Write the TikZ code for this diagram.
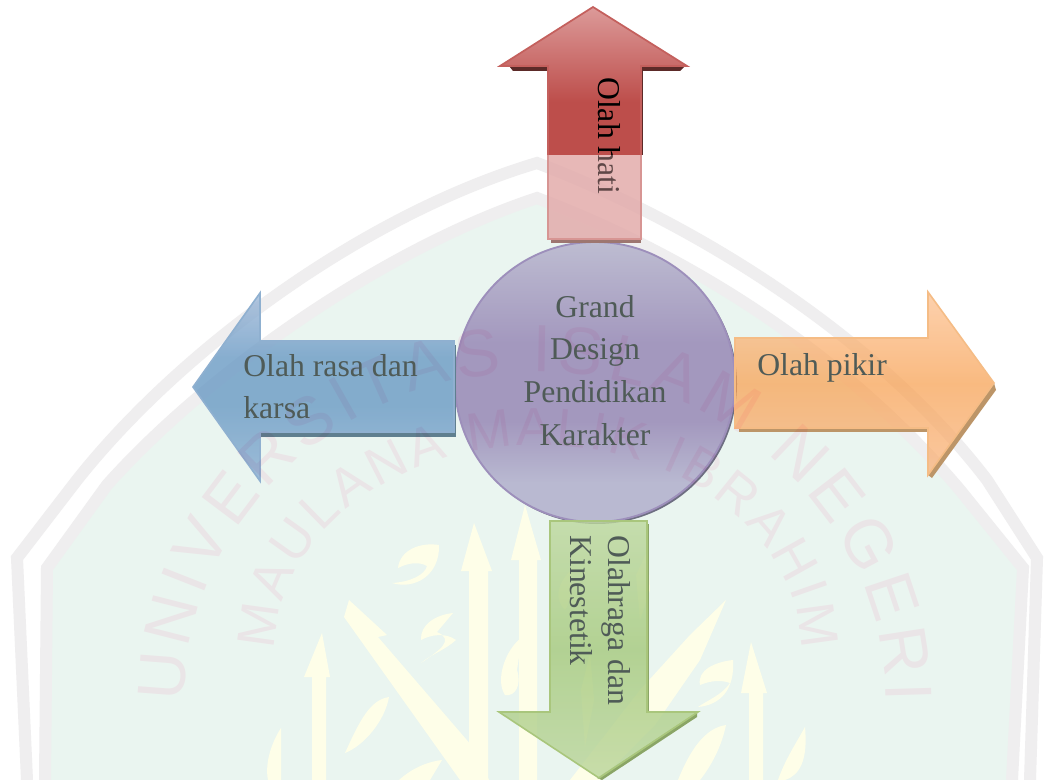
\documentclass[tikz,border=0pt]{standalone}
\usepackage{fontspec}
\setmainfont{Liberation Serif}
\newfontfamily\wmsans{Liberation Sans}
\usetikzlibrary{decorations.text}

\definecolor{wmgray}{HTML}{EFEEEF}
\definecolor{wmgreen}{HTML}{EAF5F0}
\definecolor{wmyellow}{HTML}{FEFEE8}
\definecolor{wmpink}{HTML}{FFEFF6}
\definecolor{txtgray}{HTML}{4F5B57}
\definecolor{redA}{HTML}{DC9A99}
\definecolor{redB}{HTML}{BD4E4B}
\definecolor{redC}{HTML}{E3ABAA}
\definecolor{redshade}{HTML}{5C2A28}
\definecolor{redfoot}{HTML}{9D7670}
\pgfdeclareverticalshading{redglass}{100bp}{color(0bp)=(redB); color(43bp)=(redB); color(75bp)=(redA); color(100bp)=(redA)}
\definecolor{blueA}{HTML}{A1BAD9}
\definecolor{blueB}{HTML}{6A9AC4}
\definecolor{blueC}{HTML}{89AED2}
\definecolor{blueline}{HTML}{8FB0D0}
\definecolor{blueshade}{HTML}{5F7F8F}
\pgfdeclareverticalshading{blueglass}{100bp}{color(0bp)=(blueC); color(25bp)=(blueC); color(45bp)=(blueB); color(58bp)=(blueB); color(75bp)=(blueA); color(100bp)=(blueA)}
\definecolor{orangeA}{HTML}{FCC08F}
\definecolor{orangeB}{HTML}{F8A050}
\definecolor{orangeC}{HTML}{F9B27A}
\definecolor{orangeline}{HTML}{F5BC85}
\definecolor{orangeshade}{HTML}{BC9568}
\pgfdeclareverticalshading{orangeglass}{100bp}{color(0bp)=(orangeC); color(25bp)=(orangeC); color(50bp)=(orangeB); color(75bp)=(orangeA); color(100bp)=(orangeA)}
\definecolor{greenA}{HTML}{BCD79C}
\definecolor{greenB}{HTML}{A5C97C}
\definecolor{greenC}{HTML}{BAD59A}
\definecolor{greenline}{HTML}{A9C67C}
\definecolor{greenshade}{HTML}{8AA566}
\pgfdeclareverticalshading{greenglass}{100bp}{color(0bp)=(greenC); color(25bp)=(greenC); color(50bp)=(greenB); color(75bp)=(greenA); color(100bp)=(greenA)}
\definecolor{circA}{HTML}{BDBCD1}
\definecolor{circB}{HTML}{A398BE}
\definecolor{circC}{HTML}{B9B9D1}
\definecolor{circline}{HTML}{9D8FBB}
\definecolor{circshadow}{HTML}{6E6E82}
\pgfdeclareverticalshading{circglass}{100bp}{color(0bp)=(circC); color(25bp)=(circC); color(32bp)=(circC); color(43bp)=(circB); color(57bp)=(circB); color(75bp)=(circA); color(100bp)=(circA)}

\def\wmouter{\wmsans\fontsize{50}{50}\selectfont\color{wmpink}}
\def\wminner{\wmsans\fontsize{40}{40}\selectfont\color{wmpink}}

\begin{document}
\begin{tikzpicture}[x=0.75pt, y=-0.75pt,
    label text/.style={font=\fontsize{23.8}{32}\selectfont, text=txtgray, inner sep=0pt},
    glass/.style={line width=1.2pt, line join=miter}]
\useasboundingbox (0, 0) rectangle (1052, 780);
\fill [white] (0, 0) rectangle (1052, 780);

%% watermark
\begin{scope}
    \fill [wmgreen] (45, 780) -- (47, 568) -- (107, 485) .. controls (205, 375) and (380, 250) .. (537, 198)
        .. controls (700, 260) and (850, 360) .. (960, 490) -- (1023, 568) -- (1012, 780) -- cycle;
    \draw [wmgray, line width=9pt] (27, 780) -- (17, 558) -- (77, 480) .. controls (180, 350) and (363, 215) .. (537, 163)
        .. controls (700, 225) and (880, 340) .. (987, 480) -- (1037, 558) -- (1030, 780);
    \draw [wmgray, line width=9pt] (45, 780) -- (47, 568) -- (107, 485) .. controls (205, 375) and (380, 250) .. (537, 198)
        .. controls (700, 260) and (850, 360) .. (960, 490) -- (1023, 568) -- (1012, 780);

    %% vertical strokes
    \foreach \xl/\xr/\xtip/\ytip/\ybarb in {469/488/474/523/571, 519/537/525/505/560, 312/326/322/633/677, 749/763/751/642/693}
    {
        \fill [wmyellow] (\xtip, \ytip) -- (\xr+4, \ybarb) -- (\xr, \ybarb) -- (\xr, 780) -- (\xl, 780) -- (\xl, \ybarb) -- (\xl-8, \ybarb) -- cycle;
    }
    %% diagonals
    \fill [wmyellow] (349, 600) -- (387, 635) -- (378, 637) -- (478, 753) -- (489, 780) -- (460, 780) -- (344, 617) -- cycle;
    \fill [wmyellow] (726, 600) -- (690, 635) -- (640, 690) -- (570, 780) -- (600, 780) -- (655, 725) -- (700, 660) -- cycle;
    %% small marks
    \fill [wmyellow] (439, 545) .. controls (420, 542) and (400, 550) .. (398, 568) .. controls (410, 562) and (420, 562) .. (427, 566)
        .. controls (425, 575) and (410, 582) .. (392, 583) .. controls (415, 590) and (440, 575) .. (439, 545) -- cycle;
    \fill [wmyellow] (453, 613) .. controls (435, 615) and (420, 625) .. (421, 640) .. controls (430, 635) and (445, 632) .. (456, 640)
        .. controls (445, 650) and (430, 655) .. (421, 663) .. controls (440, 650) and (455, 640) .. (437, 632) -- cycle;
    \fill [wmyellow] (389, 697) .. controls (370, 700) and (360, 720) .. (345, 753) .. controls (365, 745) and (385, 720) .. (389, 697) -- cycle;
    \fill [wmyellow] (522, 637) .. controls (505, 650) and (495, 680) .. (505, 695) .. controls (515, 697) and (522, 685) .. (517, 670) -- cycle;
    \fill [wmyellow] (733, 660) .. controls (715, 662) and (697, 670) .. (700, 685) .. controls (712, 680) and (722, 680) .. (730, 683)
        .. controls (722, 695) and (708, 700) .. (698, 707) .. controls (720, 705) and (735, 690) .. (733, 660) -- cycle;
    \fill [wmyellow] (726, 725) .. controls (705, 728) and (690, 750) .. (678, 780) -- (700, 780) .. controls (712, 765) and (722, 745) .. (726, 725) -- cycle;
    \fill [wmyellow] (281, 728) .. controls (270, 745) and (265, 765) .. (268, 780) -- (281, 780) -- cycle;
    \fill [wmyellow] (805, 727) .. controls (808, 760) and (800, 775) .. (785, 780) -- (778, 780) .. controls (785, 760) and (795, 745) .. (805, 727) -- cycle;
    \fill [wmyellow] (571, 570) .. controls (556, 585) and (555, 600) .. (565, 610) .. controls (572, 600) and (570, 585) .. (571, 570) -- cycle;
    \fill [wmyellow] (590, 653) -- (594, 700) -- (585, 747) -- (581, 690) -- cycle;
    \fill [wmyellow] (648, 550) -- (636, 575) -- (640, 620) -- (650, 590) -- cycle;
    \fill [wmyellow] (442, 760) .. controls (425, 762) and (410, 770) .. (399, 780) -- (430, 780) -- cycle;
\end{scope}

%% centre circle
\begin{scope}
    \node (circshade) [circle, inner sep=0pt, minimum size=210pt, fill=circshadow] at (597, 384) {};
    \node (circ) [circle, inner sep=0pt, minimum size=210pt, shading=circglass, draw=circline, line width=1.4pt] at (595, 382) {};
\end{scope}

%% red arrow (up)
\begin{scope}
    \fill [redshade] (509, 66) -- (685, 66) -- (680, 71) -- (513, 71) -- cycle;
    \fill [redshade] (641, 68) rectangle (643, 155);
    \fill [redfoot] (551, 239) rectangle (641, 243);
    \shade [shading=redglass] (593, 7) -- (687, 66) -- (641, 66) -- (641, 155) -- (548, 155) -- (548, 66) -- (500, 66) -- cycle;
    \fill [redC, fill opacity=0.72] (548, 155) rectangle (641, 239);
    \node (hati) [label text, text=black, rotate=-90, anchor=base west] at (598, 77) {Olah hati};
    \fill [redC, fill opacity=0.42] (548, 155) rectangle (641, 239);
    \draw [redB!90!white, line width=1.3pt] (548, 155) -- (548, 66) -- (500, 66) -- (593, 7) -- (687, 66) -- (641, 66) -- (641, 155);
    \draw [redB!60!white, line width=1.3pt] (548, 155) -- (548, 239) -- (641, 239) -- (641, 155);
\end{scope}

%% blue arrow (left)
\begin{scope}
    \fill [blueshade] (261, 432) rectangle (456, 437);
    \fill [blueshade] (454, 345) rectangle (456, 437);
    \shade [glass, fill opacity=0.8, shading=blueglass] (193, 387) -- (260, 293) -- (260, 341) -- (454, 341) -- (454, 432) -- (260, 432) -- (260, 481) -- cycle;
    \draw [glass, blueline] (193, 387) -- (260, 293) -- (260, 341) -- (454, 341) -- (454, 432) -- (260, 432) -- (260, 481) -- cycle;
\end{scope}

%% orange arrow (right)
\begin{scope}
    \fill [orangeshade] (739, 428) rectangle (928, 432);
    \fill [orangeshade] (994, 383) -- (996, 390) -- (932, 478) -- (928, 475) -- cycle;
    \shade [glass, fill opacity=0.72, shading=orangeglass] (735, 338) -- (928, 338) -- (928, 292) -- (994, 383) -- (928, 475) -- (928, 428) -- (735, 428) -- cycle;
    \draw [glass, orangeline] (735, 338) -- (928, 338) -- (928, 292) -- (994, 383) -- (928, 475) -- (928, 428) -- (735, 428) -- cycle;
\end{scope}

%% green arrow (down)
\begin{scope}
    \fill [greenshade] (647, 524) rectangle (649, 712);
    \fill [greenshade] (697, 712) -- (697, 717) -- (602, 780) -- (597, 778) -- cycle;
    \shade [glass, fill opacity=0.8, shading=greenglass] (550, 521) -- (647, 521) -- (647, 712) -- (698, 712) -- (599, 778) -- (499, 712) -- (550, 712) -- cycle;
    \draw [glass, greenline] (550, 521) -- (647, 521) -- (647, 712) -- (698, 712) -- (599, 778) -- (499, 712) -- (550, 712) -- cycle;
\end{scope}

%% watermark letters
\begin{scope}[blend mode=multiply]
    \path [decorate, decoration={text along path, text align={fit to path},
        text={|\wmouter|UNIVERSITAS ISLAM NEGERI}}]
        (184, 702) .. controls (184, 520) and (341, 372) .. (535, 372) .. controls (729, 372) and (886, 520) .. (886, 702);
    \path [decorate, decoration={text along path, text align={fit to path},
        text={|\wminner|MAULANA MALIK IBRAHIM}}]
        (275, 650) .. controls (275, 537) and (393, 445) .. (538, 445) .. controls (683, 445) and (801, 537) .. (801, 650);
\end{scope}

%% labels
\node (grand) [label text, anchor=north, align=center] at (595, 295) {Grand\\Design\\Pendidikan\\Karakter};
\node (rasa) [label text, anchor=north west, align=left] at (243, 354) {Olah rasa dan\\karsa};
\node (pikir) [label text, anchor=north west] at (757, 353) {Olah pikir};
\node (raga) [label text, rotate=-90, anchor=north west, align=left, font=\fontsize{23.8}{28.5}\selectfont] at (631, 535) {Olahraga dan\\Kinestetik};

\end{tikzpicture}
\end{document}
